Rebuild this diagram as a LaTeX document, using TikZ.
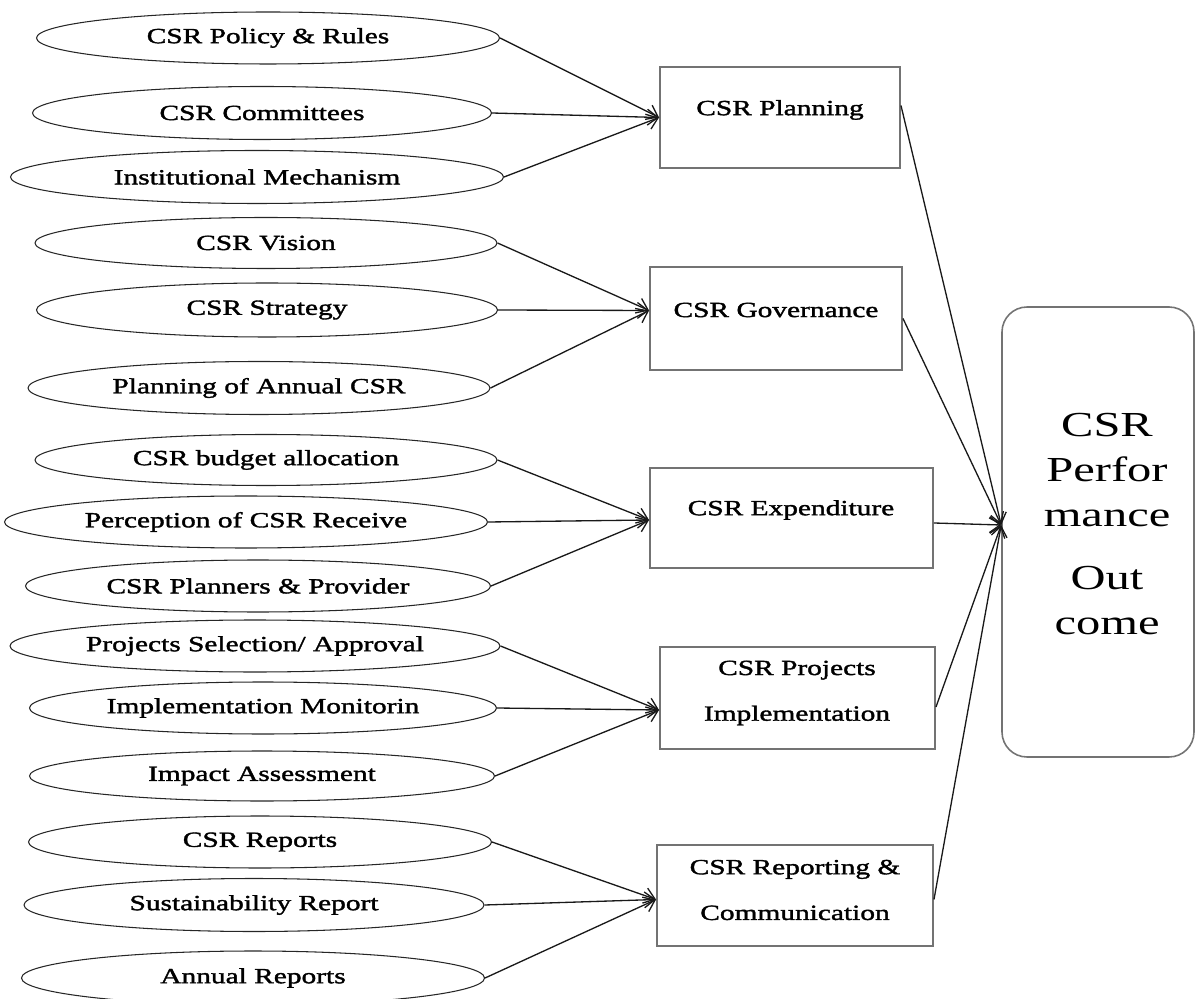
\documentclass[tikz,border=0pt]{standalone}
\usepackage{fontspec}
\setmainfont{Liberation Serif}[FakeStretch=1.38]
\newfontfamily\lblfont{Liberation Serif}[FakeStretch=1.36,FakeBold=1.6]
\usetikzlibrary{arrows.meta,calc,shapes.geometric}
\def\pxu{0.02cm}
\tikzset{
  ell/.style={draw=black!85, line width=0.6pt, ellipse, inner sep=0pt, font=\lblfont\fontsize{12.3pt}{14pt}\selectfont},
  box/.style={draw=black!55, line width=1.1pt, rectangle, inner sep=0pt},
  lbl/.style={inner sep=0pt, align=center, font=\lblfont\fontsize{12.3pt}{26pt}\selectfont},
  conn/.style={line width=0.75pt, draw=black!90, -{Straight Barb[length=6pt,width=9pt]}},
}
\begin{document}
\begin{tikzpicture}[x=0.02cm,y=-0.02cm]
\useasboundingbox (0,0) rectangle (1196,999);

% ellipses
\node[ell, minimum width=463*\pxu, minimum height=52*\pxu] (e1) at (268,38) {CSR Policy \& Rules};
\node[ell, minimum width=459*\pxu, minimum height=53*\pxu] (e2) at (262,113) {CSR Committees};
\node[ell, minimum width=493*\pxu, minimum height=53*\pxu] (e3) at (257,177) {Institutional Mechanism};
\node[ell, minimum width=462*\pxu, minimum height=51*\pxu] (e4) at (266,243) {CSR Vision};
\node[ell, minimum width=461*\pxu, minimum height=54*\pxu] (e5) at (267,310) {CSR Strategy};
\node[ell, minimum width=462*\pxu, minimum height=53*\pxu] (e6) at (259,388) {Planning of Annual CSR};
\node[ell, minimum width=462*\pxu, minimum height=51*\pxu] (e7) at (266,460) {CSR budget allocation};
\node[ell, minimum width=483*\pxu, minimum height=52*\pxu] (e8) at (246,522) {Perception of CSR Receive};
\node[ell, minimum width=465*\pxu, minimum height=52*\pxu] (e9) at (258,586) {CSR Planners \& Provider};
\node[ell, minimum width=490*\pxu, minimum height=52*\pxu] (e10) at (255,646) {Projects Selection/ Approval};
\node[ell, minimum width=467*\pxu, minimum height=52*\pxu] (e11) at (263,708) {Implementation Monitorin};
\node[ell, minimum width=465*\pxu, minimum height=50*\pxu] (e12) at (262,776) {Impact Assessment};
\node[ell, minimum width=463*\pxu, minimum height=52*\pxu] (e13) at (260,842) {CSR Reports};
\node[ell, minimum width=460*\pxu, minimum height=53*\pxu] (e14) at (254,905) {Sustainability Report};
\node[ell, minimum width=463*\pxu, minimum height=54*\pxu] (e15) at (253,978) {Annual Reports};

% boxes
\node[box, minimum width=240*\pxu, minimum height=101*\pxu] (b1) at (780,117.5) {};
\node[box, minimum width=252*\pxu, minimum height=103*\pxu] (b2) at (776,318.5) {};
\node[box, minimum width=283*\pxu, minimum height=100*\pxu] (b3) at (791.5,518) {};
\node[box, minimum width=275*\pxu, minimum height=102*\pxu] (b4) at (797.5,698) {};
\node[box, minimum width=276*\pxu, minimum height=101*\pxu] (b5) at (795,895.5) {};

\node[lbl] (b1t) at (780,110) {CSR Planning};
\node[lbl] (b2t) at (776,310) {CSR Governance};
\node[lbl] (b3t) at (791,510) {CSR Expenditure};
\node[lbl] (b4t) at (797,693) {CSR Projects\\Implementation};
\node[lbl] (b5t) at (795,890) {CSR Reporting \&\\Communication};

% outcome box
\node[draw=black!55, line width=0.9pt, rounded corners=25*\pxu, minimum width=192*\pxu, minimum height=450*\pxu, inner sep=0pt] (out) at (1098,532) {};
\node[anchor=north, inner sep=0pt, align=center, font=\fontsize{20pt}{25.6pt}\selectfont] (outt) at (1107,413) {CSR\\Perfor\\mance\\[10pt] Out\\come};

% coordinates
\coordinate (t2) at ($(b2.west)+(0,-8)$);
\coordinate (t3) at ($(b3.west)+(0,2)$);
\coordinate (t4) at ($(b4.west)+(0,12)$);
\coordinate (t5) at ($(b5.west)+(0,4)$);
\coordinate (s1) at ($(b1.east)+(0,-12)$);
\coordinate (s3) at ($(b3.east)+(0,5)$);
\coordinate (s4) at ($(b4.east)+(0,9)$);
\coordinate (s5) at ($(b5.east)+(0,4)$);
\coordinate (hub) at ($(out.west)+(0,-7)$);

% connectors to boxes
\draw[conn] (e1.east) -- (b1.west);
\draw[conn] (e2.east) -- (b1.west);
\draw[conn] (e3.east) -- (b1.west);
\draw[conn] (e4.east) -- (t2);
\draw[conn] (e5.east) -- (t2);
\draw[conn] (e6.east) -- (t2);
\draw[conn] (e7.east) -- (t3);
\draw[conn] (e8.east) -- (t3);
\draw[conn] (e9.east) -- (t3);
\draw[conn] (e10.east) -- (t4);
\draw[conn] (e11.east) -- (t4);
\draw[conn] (e12.east) -- (t4);
\draw[conn] (e13.east) -- (t5);
\draw[conn] (e14.east) -- (t5);
\draw[conn] (e15.east) -- (t5);

% connectors to outcome
\draw[conn] (s1) -- (hub);
\draw[conn] (b2.east) -- (hub);
\draw[conn] (s3) -- (hub);
\draw[conn] (s4) -- (hub);
\draw[conn] (s5) -- (hub);
\end{tikzpicture}
\end{document}
